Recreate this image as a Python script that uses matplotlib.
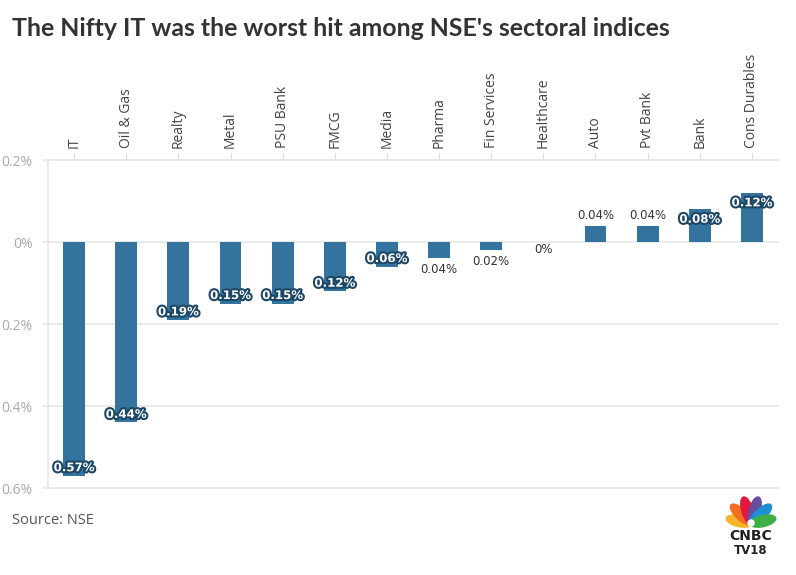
import matplotlib
matplotlib.use("Agg")
import matplotlib.pyplot as plt
import matplotlib.patheffects as pe
from matplotlib.patches import Ellipse, Circle
import numpy as np

categories = ["IT", "Oil & Gas", "Realty", "Metal", "PSU Bank", "FMCG", "Media",
              "Pharma", "Fin Services", "Healthcare", "Auto", "Pvt Bank", "Bank", "Cons Durables"]
values = [-0.57, -0.44, -0.19, -0.15, -0.15, -0.12, -0.06,
          -0.04, -0.02, 0.0, 0.04, 0.04, 0.08, 0.12]
labels = ["0.57%", "0.44%", "0.19%", "0.15%", "0.15%", "0.12%", "0.06%",
          "0.04%", "0.02%", "0%", "0.04%", "0.04%", "0.08%", "0.12%"]
inside = [True, True, True, True, True, True, True,
          False, False, False, False, False, True, True]
yticks = [0.2, 0.0, -0.2, -0.4, -0.6]
ytick_labels = ["0.2%", "0%", "0.2%", "0.4%", "0.6%"]

W, H = 796, 575
fig = plt.figure(figsize=(W/100, H/100), dpi=100)
ax = fig.add_axes([48/W, 1-488/H, (778-48)/W, (488-160)/H])

bar_color = "#33739e"
x = np.arange(len(categories))
ax.bar(x, values, width=0.42, color=bar_color, zorder=3)
ax.set_xlim(-0.5, len(categories)-0.5)
ax.set_ylim(-0.6, 0.2)

ax.set_yticks(yticks)
ax.set_yticklabels(ytick_labels, color="#aaaaaa", fontsize=10, family="Open Sans")
ax.tick_params(axis="y", length=0, pad=11)
for yv in yticks:
    ax.axhline(yv, color="#e6e6e6", lw=1.2, zorder=1, xmin=-0.007, clip_on=False)

ax.xaxis.tick_top()
ax.set_xticks(x)
ax.set_xticklabels(categories, rotation=90, fontsize=10, color="#444444", family="Open Sans")
ax.tick_params(axis="x", length=5, color="#dddddd", pad=4)

for s in ["top", "right", "bottom"]:
    ax.spines[s].set_visible(False)
ax.spines["left"].set_color("#e6e6e6")
ax.spines["left"].set_linewidth(1.2)

dpp = 0.8 / (488-160)  # data units per pixel
for xi, v, lab, ins in zip(x, values, labels, inside):
    if ins:
        yy = v + (8*dpp if v < 0 else -10*dpp)
        t = ax.text(xi, yy, lab, ha="center", va="center", fontsize=8.5, fontweight="bold",
                    color="white", family="DejaVu Sans", zorder=5)
        t.set_path_effects([pe.Stroke(linewidth=3, foreground="#1d4766"), pe.Normal()])
    else:
        if v < 0:
            yy = v - 11*dpp
        elif v > 0:
            yy = v + 10*dpp
        else:
            yy = -7*dpp
        ax.text(xi, yy, lab, ha="center", va="center", fontsize=8.5, color="#333333",
                family="DejaVu Sans", zorder=5)

fig.text(12/W, 1-29/H, "The Nifty IT was the worst hit among NSE's sectoral indices",
         fontsize=17.9, fontweight="bold", color="#333333", family="Lato", va="center", ha="left")
fig.text(12/W, 1-520/H, "Source: NSE", fontsize=10.5, color="#555555", family="Open Sans",
         va="center", ha="left")

# logo
lax = fig.add_axes([718/W, 1-562/H, 66/W, 74/H])
lax.set_xlim(0, 66); lax.set_ylim(0, 74)
lax.axis("off")
cols = ["#f7b52c", "#f37021", "#e4183c", "#6a4c9c", "#1d8fd6", "#3fae49"]
cx, cy = 33, 38
angs = [167, 137, 106, 74, 43, 13]
for a, c in zip(angs, cols):
    r = np.deg2rad(a)
    L = 28 if 40 < a < 140 else 26
    ex, ey = cx + np.cos(r)*L/2*0.95, cy + np.sin(r)*L/2
    lax.add_patch(Ellipse((ex, ey), L, 11, angle=a, color=c, zorder=2))
lax.add_patch(Circle((cx, cy+1), 3, color="white", zorder=3))
lax.text(33, 26.5, "CNBC", ha="center", va="center", fontsize=10, fontweight="bold",
         color="#222222", family="DejaVu Sans")
lax.text(33, 11, "TV18", ha="center", va="center", fontsize=8.5, fontweight="bold",
         color="#222222", family="DejaVu Sans")

fig.savefig("out.png", dpi=100, facecolor="white")
